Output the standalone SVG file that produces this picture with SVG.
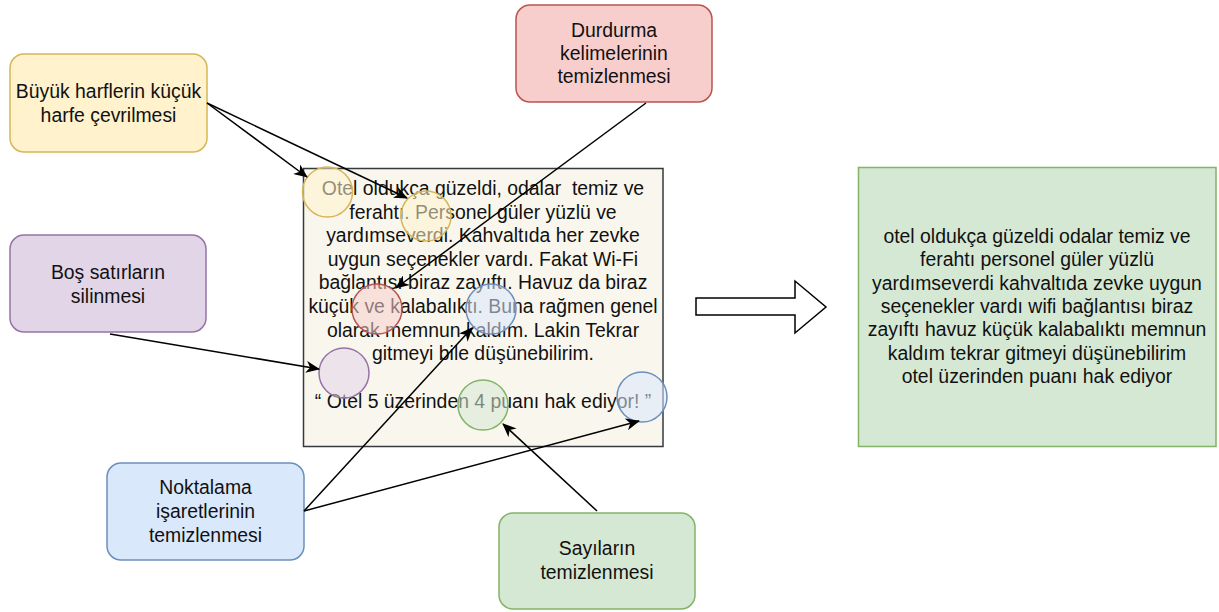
<svg xmlns="http://www.w3.org/2000/svg" width="1219" height="612" viewBox="0 0 1219 612">
<style>
text{font-family:"Liberation Sans",Arial,sans-serif;font-size:19.4px;fill:#111;text-anchor:middle}
.box{stroke-width:1.5}
.y{fill:#fff2cc;stroke:#d6b656}
.r{fill:#f8cecc;stroke:#b85450}
.p{fill:#e1d5e7;stroke:#9673a6}
.b{fill:#dae8fc;stroke:#6c8ebf}
.g{fill:#d5e8d4;stroke:#82b366}
.c{stroke-width:1.5;fill-opacity:0.55}
.edge{stroke:#000;stroke-width:1.5;fill:none;marker-end:url(#ah)}
</style>
<defs>
<marker id="ah" markerUnits="userSpaceOnUse" markerWidth="14" markerHeight="12" viewBox="0 0 14 12" refX="13" refY="6" orient="auto">
<path d="M0,0 L14,6 L0,12 L4,6 z" fill="#000"/>
</marker>
</defs>
<g id="n-buyuk">
<rect class="box y" x="10" y="54" width="197" height="98" rx="14"/>
<text x="108.5" y="98">Büyük harflerin küçük</text>
<text x="108.5" y="122">harfe çevrilmesi</text>
</g>
<g id="n-durdurma">
<rect class="box r" x="516" y="5" width="196" height="97" rx="14"/>
<text x="614" y="37">Durdurma</text>
<text x="614" y="60">kelimelerinin</text>
<text x="614" y="83">temizlenmesi</text>
</g>
<g id="n-bos">
<rect class="box p" x="10" y="235" width="196" height="97" rx="14"/>
<text x="108" y="279">Boş satırların</text>
<text x="108" y="303">silinmesi</text>
</g>
<g id="n-noktalama">
<rect class="box b" x="107" y="463" width="197" height="97" rx="14"/>
<text x="205.5" y="494">Noktalama</text>
<text x="205.5" y="518">işaretlerinin</text>
<text x="205.5" y="542">temizlenmesi</text>
</g>
<g id="n-sayilar">
<rect class="box g" x="499" y="513" width="196" height="96" rx="14"/>
<text x="597" y="555">Sayıların</text>
<text x="597" y="579">temizlenmesi</text>
</g>
<g id="n-metin">
<rect x="303.5" y="168.5" width="359.5" height="278" fill="#f9f7ed" stroke="#36393d" stroke-width="1.5"/>
<text x="483" y="195" style="white-space:pre">Otel oldukça güzeldi, odalar  temiz ve</text>
<text x="483" y="218.6">ferahtı.  Personel güler yüzlü ve</text>
<text x="483" y="242.2">yardımseverdi. Kahvaltıda her zevke</text>
<text x="483" y="265.8">uygun seçenekler vardı. Fakat Wi-Fi</text>
<text x="483" y="289.4">bağlantısı biraz zayıftı. Havuz da biraz</text>
<text x="483" y="313">küçük ve kalabalıktı. Buna rağmen genel</text>
<text x="483" y="336.6">olarak memnun kaldım. Lakin Tekrar</text>
<text x="483" y="360.2">gitmeyi bile düşünebilirim.</text>
<text x="483" y="407.5">“ Otel 5 üzerinden 4 puanı hak ediyor! ”</text>
<circle class="c y" cx="327.5" cy="192" r="25"/>
<circle class="c y" cx="426" cy="216" r="25"/>
<circle class="c r" cx="377" cy="309" r="25"/>
<circle class="c b" cx="491" cy="309" r="25"/>
<circle class="c p" cx="344" cy="373" r="25"/>
<circle class="c g" cx="483" cy="405" r="25"/>
<circle class="c b" cx="642" cy="397" r="25"/>
</g>
<g id="n-sonuc">
<rect x="858.5" y="167.5" width="357.5" height="279" fill="#d5e8d4" stroke="#82b366" stroke-width="1.5"/>
<text x="1037" y="243">otel oldukça güzeldi odalar temiz ve</text>
<text x="1037" y="266.3">ferahtı personel güler yüzlü</text>
<text x="1037" y="289.6">yardımseverdi kahvaltıda zevke uygun</text>
<text x="1037" y="312.9">seçenekler vardı wifi bağlantısı biraz</text>
<text x="1037" y="336.2">zayıftı havuz küçük kalabalıktı memnun</text>
<text x="1037" y="359.5">kaldım tekrar gitmeyi düşünebilirim</text>
<text x="1037" y="382.8">otel üzerinden puanı hak ediyor</text>
</g>
<g id="n-ok">
<path d="M696,298 L795,298 L795,281 L826,307 L795,333 L795,315 L696,315 Z" fill="#fff" stroke="#000" stroke-width="1.5"/>
</g>
<g id="connectors">
<line class="edge" x1="207" y1="103" x2="307" y2="177"/>
<line class="edge" x1="207" y1="103" x2="407" y2="198"/>
<line class="edge" x1="646" y1="103" x2="396" y2="288"/>
<line class="edge" x1="110" y1="334" x2="319" y2="369"/>
<line class="edge" x1="304" y1="511" x2="472" y2="328"/>
<line class="edge" x1="304" y1="511" x2="639" y2="421"/>
<line class="edge" x1="597" y1="511" x2="503" y2="424"/>
</g>
</svg>
